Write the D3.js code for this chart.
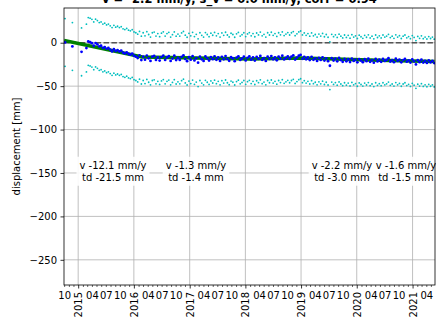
<!DOCTYPE html>
<html><head><meta charset="utf-8">
<script src="https://cdn.jsdelivr.net/npm/d3@7"></script>
<style>
body{margin:0;background:#fff;}
svg{display:block;font-family:"DejaVu Sans",sans-serif;}
</style>
</head><body>
<svg id="chart" width="436" height="327"></svg>
<script>
// ---------------- data ----------------
const titleText = "v = -2.2 mm/y, s_v = 0.0 mm/y, corr = 0.94";
const yLabel = "displacement [mm]";
const xLabel = "time";
const xDomain = ["2014-09-30", "2021-05-28"];
const yDomain = [-279, 40];
const yTicks = [0, -50, -100, -150, -200, -250];
const labeledMonths = [4, 7, 10];

// irregular early acquisitions, then regular 12-day repeat cycle
const earlyDates = ["2014-10-07", "2014-11-24", "2015-01-23", "2015-02-24"];
const acqStart = "2015-03-08";
const acqStepDays = 12;

const displacement = [
  0.3, -4.3, -10.5, -6.1,
  1.5, 0.8, -0.5, -3.5, -0.4, -2.0, -4.3, -3.5, -6.0, -5.0,
  -7.0, -6.0, -8.0, -10.0, -7.5, -9.6, -8.5, -10.0, -9.0, -11.5,
  -12.3, -11.0, -13.0, -13.8, -12.5, -15.0, -16.0, -17.6, -14.5, -20.0,
  -16.0, -19.5, -14.8, -18.0, -21.0, -16.0, -15.2, -19.8, -17.0, -20.5,
  -16.5, -14.9, -19.8, -17.0, -15.5, -21.0, -18.2, -15.0, -20.0, -17.5,
  -19.8, -16.2, -14.5, -18.8, -21.2, -16.7, -19.5, -15.5, -20.4, -17.8,
  -23.0, -16.0, -19.0, -21.0, -15.8, -18.0, -20.5, -16.5, -18.9, -15.6,
  -19.6, -17.0, -21.0, -16.2, -19.0, -15.4, -18.6, -20.8, -16.6, -18.0,
  -21.2, -17.2, -15.6, -19.8, -18.2, -16.0, -20.4, -17.4, -15.8, -19.5,
  -17.0, -20.6, -16.3, -18.5, -15.2, -19.6, -17.8, -21.0, -16.0, -18.6,
  -15.4, -19.0, -17.0, -20.2, -16.0, -18.4, -15.0, -19.2, -17.5, -15.8,
  -18.6, -16.0, -14.6, -19.4, -17.2, -15.0, -14.0, -18.5, -16.2, -19.0,
  -17.0, -20.0, -16.2, -19.6, -18.0, -21.0, -17.5, -19.8, -16.8, -20.6,
  -18.0, -21.2, -26.5, -17.8, -20.5, -18.4, -21.4, -17.6, -20.0, -22.0,
  -18.6, -21.4, -19.0, -22.2, -18.2, -21.0, -19.5, -22.6, -18.8, -20.6,
  -22.4, -19.0, -21.2, -18.4, -22.0, -20.0, -23.0, -18.6, -21.5, -19.6,
  -22.0, -18.6, -21.0, -19.8, -17.8, -21.6, -20.0, -22.4, -18.4, -21.0,
  -19.4, -22.6, -20.0, -18.6, -21.8, -20.4, -22.8, -19.2, -21.4, -25.0,
  -20.2, -22.4, -19.6, -22.8, -21.0, -23.2, -20.4, -22.6, -21.0, -23.4
];
const envelopeHalfWidth = 27.5;

// piecewise-linear model (green)
const modelDates  = ["2014-10-01", "2016-02-25", "2018-02-01", "2019-01-01", "2020-05-20", "2021-05-25"];
const modelValues = [2.5, -16.5, -18.8, -17.6, -20.3, -21.6];

// segment annotations
const segDates = ["2015-08-17", "2017-02-11", "2019-09-26", "2020-11-19"];
const segVel   = ["v -12.1 mm/y", "v -1.3 mm/y", "v -2.2 mm/y", "v -1.6 mm/y"];
const segTd    = ["td -21.5 mm", "td -1.4 mm", "td -3.0 mm", "td -1.5 mm"];

// ---------------- chart ----------------
const parse = d3.timeParse("%Y-%m-%d");
const L = 64, R = 435, T = 8, B = 285;
const svg = d3.select("#chart");

const x = d3.scaleTime().domain(xDomain.map(parse)).range([L, R]);
const y = d3.scaleLinear().domain(yDomain).range([B, T]);

const dates = earlyDates.map(parse);
const startD = parse(acqStart);
while (dates.length < displacement.length) {
  dates.push(d3.timeDay.offset(startD, (dates.length - earlyDates.length) * acqStepDays));
}
const pts = displacement.map((v, i) => ({d: dates[i], v}));

const fmtNum = d => (d < 0 ? "\u2212" + Math.abs(d) : "" + d);

// grid
const years = d3.timeYear.range(x.domain()[0], x.domain()[1]);
const grid = svg.append("g");
grid.selectAll("line.gx").data(years).join("line")
  .attr("x1", d => x(d)).attr("x2", d => x(d)).attr("y1", T).attr("y2", B)
  .attr("stroke", "#b0b0b0").attr("stroke-width", 0.8);
grid.selectAll("line.gy").data(yTicks).join("line")
  .attr("x1", L).attr("x2", R).attr("y1", d => y(d)).attr("y2", d => y(d))
  .attr("stroke", "#b0b0b0").attr("stroke-width", 0.8);

const plot = svg.append("g");
plot.append("clipPath").attr("id", "clip").append("rect")
  .attr("x", L).attr("y", T).attr("width", R - L).attr("height", B - T);
const pg = plot.append("g").attr("clip-path", "url(#clip)");

// zero reference line
pg.append("line").attr("x1", L).attr("x2", R).attr("y1", y(0)).attr("y2", y(0))
  .attr("stroke", "#555").attr("stroke-width", 1.5).attr("stroke-dasharray", "5.5,2.4");

// envelope (cyan)
pg.append("g").selectAll("circle").data(pts).join("circle")
  .attr("cx", d => x(d.d)).attr("cy", d => y(d.v + envelopeHalfWidth)).attr("r", 0.9)
  .attr("fill", "#00bfbf");
pg.append("g").selectAll("circle").data(pts).join("circle")
  .attr("cx", d => x(d.d)).attr("cy", d => y(d.v - envelopeHalfWidth)).attr("r", 0.9)
  .attr("fill", "#00bfbf");

// model line (green)
const model = modelDates.map((d, i) => ({d: parse(d), v: modelValues[i]}));
pg.append("path").datum(model)
  .attr("d", d3.line().x(d => x(d.d)).y(d => y(d.v)))
  .attr("fill", "none").attr("stroke", "#008000").attr("stroke-width", 3.5);

// displacement (blue)
pg.append("g").selectAll("circle").data(pts).join("circle")
  .attr("cx", d => x(d.d)).attr("cy", d => y(d.v)).attr("r", 1.4)
  .attr("fill", "#0000ff");

// annotations
const annY = y(-148);
segDates.forEach((sd, i) => {
  const g = svg.append("g");
  const cx = x(parse(sd));
  const rect = g.append("rect").attr("fill", "#fff").attr("fill-opacity", 0.9);
  const t = g.append("text").attr("text-anchor", "middle").attr("font-size", 10).attr("fill", "#000");
  t.append("tspan").attr("x", cx).attr("y", annY - 2.5).text(segVel[i]);
  t.append("tspan").attr("x", cx).attr("y", annY + 9.5).text(segTd[i]);
  const bb = t.node().getBBox();
  rect.attr("x", bb.x - 3).attr("y", bb.y - 3).attr("width", bb.width + 6).attr("height", bb.height + 6);
});

// spines
svg.append("rect").attr("x", L).attr("y", T).attr("width", R - L).attr("height", B - T)
  .attr("fill", "none").attr("stroke", "#000").attr("stroke-width", 0.8);

// y axis
const yAxis = svg.append("g").attr("transform", `translate(${L},0)`)
  .call(d3.axisLeft(y).tickValues(yTicks).tickSize(3.5).tickPadding(3.5).tickFormat(fmtNum));
yAxis.select(".domain").remove();
yAxis.selectAll("text").attr("font-size", 10).attr("font-family", "DejaVu Sans").attr("fill", "#000");
yAxis.selectAll("line").attr("stroke", "#000").attr("stroke-width", 0.8);

// x axis: minor monthly ticks
const months = d3.timeMonth.range(x.domain()[0], x.domain()[1]).filter(d => d.getMonth() !== 0);
const xMinor = svg.append("g").attr("transform", `translate(0,${B})`)
  .call(d3.axisBottom(x).tickValues(months).tickSize(2).tickPadding(4.5)
    .tickFormat(d => labeledMonths.includes(d.getMonth() + 1) ? d3.timeFormat("%m")(d) : ""));
xMinor.select(".domain").remove();
xMinor.selectAll("text").attr("font-size", 10).attr("font-family", "DejaVu Sans").attr("fill", "#000");
xMinor.selectAll("line").attr("stroke", "#000").attr("stroke-width", 0.6);

// x axis: major yearly ticks
const xMajor = svg.append("g").attr("transform", `translate(0,${B})`)
  .call(d3.axisBottom(x).tickValues(years).tickSize(3.5).tickFormat(d3.timeFormat("%Y")));
xMajor.select(".domain").remove();
xMajor.selectAll("line").attr("stroke", "#000").attr("stroke-width", 0.8);
xMajor.selectAll("text").attr("font-size", 10).attr("font-family", "DejaVu Sans").attr("fill", "#000")
  .attr("text-anchor", "end").attr("transform", "rotate(-90)")
  .attr("x", -7).attr("y", 0).attr("dy", "0.35em");

// labels
svg.append("text").attr("transform", `translate(20,${(T + B) / 2}) rotate(-90)`)
  .attr("text-anchor", "middle").attr("font-size", 10).attr("fill", "#000").text(yLabel);
svg.append("text").attr("x", (L + R) / 2).attr("y", 334.5)
  .attr("text-anchor", "middle").attr("font-size", 10).attr("fill", "#000").text(xLabel);
svg.append("text").attr("x", 239.5).attr("y", 2.5)
  .attr("text-anchor", "middle").attr("font-size", 11.5).attr("font-weight", "bold").attr("fill", "#000").text(titleText);
</script>
</body></html>
